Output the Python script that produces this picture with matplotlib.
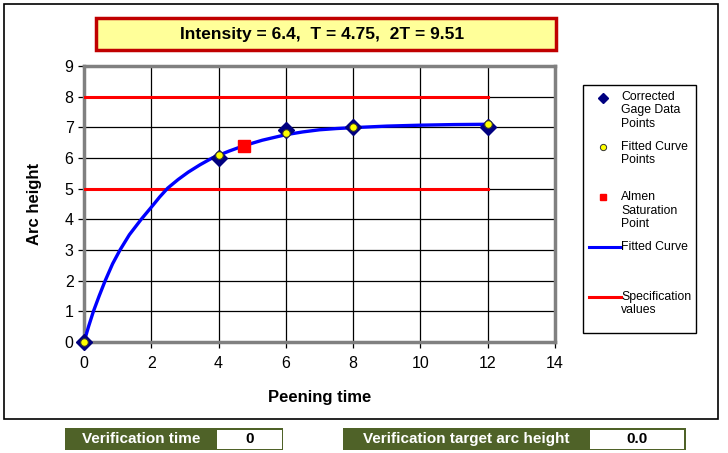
import matplotlib
matplotlib.use("Agg")
import matplotlib.pyplot as plt
from matplotlib.patches import Rectangle
from matplotlib.lines import Line2D

plt.rcParams["font.family"] = ["Liberation Sans", "DejaVu Sans"]

# ---- data ----
gage_x = [0, 4, 6, 8, 12]
gage_y = [0.0, 6.0, 6.9, 7.0, 7.0]
fit_pts_x = [0, 4, 6, 8, 12]
fit_pts_y = [0.0, 6.1, 6.8, 7.0, 7.1]
almen_x = [4.75]
almen_y = [6.4]
curve_x = [0, 0.14, 0.28, 0.45, 0.63, 0.85, 1.07, 1.35, 1.7, 2.05, 2.25, 2.49, 2.8, 3.1, 3.45,
           3.81, 4.3, 4.75, 5.3, 6, 6.5, 7, 7.5, 8, 9, 10, 11, 12]
curve_y = [0, 0.52, 1.0, 1.5, 2.0, 2.55, 3.0, 3.5, 4.0, 4.46, 4.73, 5.02, 5.3, 5.54, 5.78,
           6.0, 6.22, 6.4, 6.58, 6.76, 6.85, 6.92, 6.96, 6.99, 7.04, 7.07, 7.09, 7.1]
spec_x = [0, 12]
spec_low = [5, 5]
spec_high = [8, 8]
x_ticks = [0, 2, 4, 6, 8, 10, 12, 14]
y_ticks = list(range(0, 10))
title_text = "Intensity = 6.4,  T = 4.75,  2T = 9.51"
verif_time = "0"
verif_height = "0.0"

W, H = 728, 453
fig = plt.figure(figsize=(W / 100, H / 100), dpi=100)
fig.patch.set_facecolor("white")

def fx(px):
    return px / W

def fy(py):
    return 1 - py / H

# outer border
fig.patches.append(Rectangle((fx(4), fy(419)), fx(714), 415 / H, transform=fig.transFigure,
                             fill=False, edgecolor="black", linewidth=1.2))

# main axes
L, R, T, B = 84, 555, 66, 342
ax = fig.add_axes([fx(L), fy(B), (R - L) / W, (B - T) / H])
ax.set_xlim(0, 14)
ax.set_ylim(0, 9)
ax.set_xticks(x_ticks)
ax.set_yticks(y_ticks)
ax.grid(True, color="black", linewidth=0.9)
ax.set_axisbelow(True)
for s in ax.spines.values():
    s.set_color("#808080")
    s.set_linewidth(2.5)
ax.tick_params(axis="both", labelsize=11.5, length=4, color="black", width=0.9)
ax.tick_params(axis="x", pad=6)

ax.plot(spec_x, spec_low, color="#ff0000", linewidth=2.2, zorder=3)
ax.plot(spec_x, spec_high, color="#ff0000", linewidth=2.2, zorder=3)
ax.plot(curve_x, curve_y, color="#0000ff", linewidth=2.4, zorder=4, solid_joinstyle="round")
ax.plot(gage_x, gage_y, linestyle="none", marker="D", markersize=8,
        markerfacecolor="#000080", markeredgecolor="#000080", zorder=5, clip_on=False)
ax.plot(fit_pts_x, fit_pts_y, linestyle="none", marker="o", markersize=5.5,
        markerfacecolor="#ffff00", markeredgecolor="#333333", markeredgewidth=0.8, zorder=6, clip_on=False)
ax.plot(almen_x, almen_y, linestyle="none", marker="s", markersize=8,
        markerfacecolor="#ff0000", markeredgecolor="#ff0000", zorder=7)

ax.set_xlabel("Peening time", fontsize=12, fontweight="bold", labelpad=14)
ax.set_ylabel("Arc height", fontsize=12, fontweight="bold", labelpad=16)

# title box
fig.patches.append(Rectangle((fx(96), fy(50)), (556 - 96) / W, 32 / H, transform=fig.transFigure,
                             facecolor="#ffff99", edgecolor="#c00000", linewidth=2.5))
fig.text(fx(322), fy(34), title_text, ha="center", va="center", fontsize=12.5, fontweight="bold")

# legend box
lx0, lx1, ly0, ly1 = 583, 696, 85, 333
fig.patches.append(Rectangle((fx(lx0), fy(ly1)), (lx1 - lx0) / W, (ly1 - ly0) / H, transform=fig.transFigure,
                             facecolor="white", edgecolor="black", linewidth=1.0))
leg_font = dict(fontsize=8.8, va="center", ha="left", linespacing=1.18)
tx = fx(621)
mx = fx(603)
fig.text(tx, fy(110.5), "Corrected\nGage Data\nPoints", **leg_font)
fig.lines.append(Line2D([mx], [fy(97.5)], transform=fig.transFigure, marker="D", markersize=5,
                        color="#000080", linestyle="none"))
fig.text(tx, fy(153.5), "Fitted Curve\nPoints", **leg_font)
fig.lines.append(Line2D([mx], [fy(147)], transform=fig.transFigure, marker="o", markersize=4.5,
                        markerfacecolor="#ffff00", markeredgecolor="#333333", markeredgewidth=0.7,
                        linestyle="none"))
fig.text(tx, fy(210.5), "Almen\nSaturation\nPoint", **leg_font)
fig.lines.append(Line2D([mx], [fy(197)], transform=fig.transFigure, marker="s", markersize=5,
                        color="#ff0000", linestyle="none"))
fig.text(tx, fy(246.5), "Fitted Curve", **leg_font)
fig.lines.append(Line2D([fx(589), fx(621)], [fy(246.5), fy(246.5)], transform=fig.transFigure,
                        color="#0000ff", linewidth=2.2))
fig.text(tx, fy(303.5), "Specification\nvalues", **leg_font)
fig.lines.append(Line2D([fx(589), fx(621)], [fy(296.5), fy(296.5)], transform=fig.transFigure,
                        color="#ff0000", linewidth=2.2))

# bottom boxes
green = "#4f6228"
def vbox(x0, x1, wx0, wx1, label, value):
    y0, y1 = 428, 450
    fig.patches.append(Rectangle((fx(x0), fy(y1)), (x1 - x0) / W, (y1 - y0) / H, transform=fig.transFigure,
                                 facecolor=green, edgecolor="none"))
    fig.patches.append(Rectangle((fx(wx0), fy(y1 - 1.5)), (wx1 - wx0) / W, (y1 - y0 - 3) / H,
                                 transform=fig.transFigure, facecolor="white", edgecolor="none"))
    fig.text(fx((x0 + wx0) / 2), fy(439), label, ha="center", va="center", color="white",
             fontsize=11, fontweight="bold")
    fig.text(fx((wx0 + wx1) / 2), fy(439), value, ha="center", va="center", color="black",
             fontsize=11, fontweight="bold")

vbox(65, 283, 217, 282, "Verification time", verif_time)
vbox(343, 686, 590, 684, "Verification target arc height", verif_height)

fig.savefig("out.png", dpi=100)
